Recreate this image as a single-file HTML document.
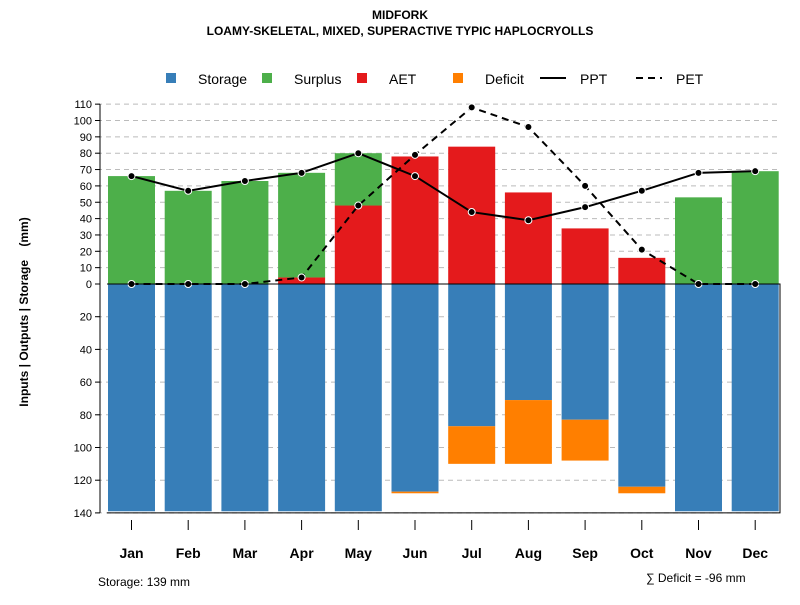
<!DOCTYPE html>
<html><head><meta charset="utf-8"><style>body{margin:0;background:#fff}svg{font-family:"Liberation Sans",sans-serif}</style></head>
<body>
<svg id="c" width="800" height="600" xmlns="http://www.w3.org/2000/svg">
<text x="400" y="19" text-anchor="middle" font-size="12" font-weight="bold">MIDFORK</text>
<text x="400" y="35" text-anchor="middle" font-size="12" font-weight="bold">LOAMY-SKELETAL, MIXED, SUPERACTIVE TYPIC HAPLOCRYOLLS</text>
<g id="grid"></g><g id="bars"></g><g id="lines"></g><g id="axes"></g>
<g font-size="14">
<rect x="166" y="73" width="10" height="10" fill="#377eb8"/><text x="198" y="84">Storage</text>
<rect x="262" y="73" width="10" height="10" fill="#4daf4a"/><text x="294" y="84">Surplus</text>
<rect x="357" y="73" width="10" height="10" fill="#e41a1c"/><text x="389" y="84">AET</text>
<rect x="453" y="73" width="10" height="10" fill="#ff7f00"/><text x="485" y="84">Deficit</text>
<line x1="540" y1="78" x2="566" y2="78" stroke="#000" stroke-width="2"/><text x="580" y="84">PPT</text>
<line x1="636" y1="78" x2="662" y2="78" stroke="#000" stroke-width="2" stroke-dasharray="7,5"/><text x="676" y="84">PET</text>
</g>
<text x="28" y="312" transform="rotate(-90 28 312)" text-anchor="middle" font-size="12" font-weight="bold">Inputs | Outputs | Storage&#160;&#160;&#160;&#160;(mm)</text>
<text x="98" y="586" font-size="12">Storage: 139 mm</text>
<text x="646" y="582" font-size="12">∑ Deficit = -96 mm</text>
</svg>
<script>
const months=["Jan","Feb","Mar","Apr","May","Jun","Jul","Aug","Sep","Oct","Nov","Dec"];
const aet=[0,0,0,4,48,78,84,56,34,16,0,0];
const surplus=[66,57,63,64,32,0,0,0,0,0,53,69];
const storage=[139,139,139,139,139,127,87,71,83,124,139,139];
const deficit=[0,0,0,0,0,1,23,39,25,4,0,0];
const ppt=[66,57,63,68,80,66,44,39,47,57,68,69];
const pet=[0,0,0,4,48,79,108,96,60,21,0,0];
const upTicks=[0,10,20,30,40,50,60,70,80,90,100,110];
const downTicks=[20,40,60,80,100,120,140];
const NS="http://www.w3.org/2000/svg";
const y0=284,k=1.635;
const y=v=>y0-v*k;
const x=i=>131.5+i*56.7;
const bw=47;
function mk(p,t,a){const e=document.createElementNS(NS,t);for(const q in a)e.setAttribute(q,a[q]);document.getElementById(p).appendChild(e);return e;}
upTicks.forEach(v=>{if(v>0){const g=mk('grid','line',{x1:97,x2:780,y1:y(v),y2:y(v),stroke:'#bbb','stroke-dasharray':'5,4'});

}
const t=mk('axes','line',{x1:95,x2:100,y1:y(v),y2:y(v),stroke:'#000'});


const l=mk('axes','text',{x:92,y:y(v)+4,'text-anchor':'end','font-size':11});l.textContent=v;

});
downTicks.forEach(v=>{const g=mk('grid','line',{x1:97,x2:780,y1:y(-v),y2:y(-v),stroke:'#bbb','stroke-dasharray':'5,4'});


const t=mk('axes','line',{x1:95,x2:100,y1:y(-v),y2:y(-v),stroke:'#000'});


const l=mk('axes','text',{x:92,y:y(-v)+4,'text-anchor':'end','font-size':11});l.textContent=v;

});
const ax=mk('axes','line',{x1:100,x2:100,y1:y(110),y2:y(-140),stroke:'#000'});


function bar(i,a,b,c,n){if(b<=a)return;const r=mk('bars','rect',{x:x(i)-bw/2,y:y(b),width:bw,height:(b-a)*k,fill:c});

}
months.forEach((m,i)=>{
bar(i,0,aet[i],'#e41a1c','aet');
bar(i,aet[i],aet[i]+surplus[i],'#4daf4a','surplus');
bar(i,-storage[i],0,'#377eb8','storage');
bar(i,-storage[i]-deficit[i],-storage[i],'#ff7f00','deficit');
const t=mk('axes','line',{x1:x(i),x2:x(i),y1:520,y2:530,stroke:'#000'});


const l=mk('axes','text',{x:x(i),y:558,'text-anchor':'middle','font-size':14,'font-weight':'bold'});l.textContent=m;

});
const fr=mk('axes','path',{d:`M107 ${y0} H780 V${y(-140)} H107`,fill:'none',stroke:'#000'});


[[ppt,'ppt',null],[pet,'pet','7,5']].forEach(([d,n,da])=>{
const p=mk('lines','polyline',{points:d.map((v,i)=>x(i)+','+y(v)).join(' '),fill:'none',stroke:'#000','stroke-width':2});
if(da)p.setAttribute('stroke-dasharray',da);


d.forEach((v,i)=>{const c=mk('lines','circle',{cx:x(i),cy:y(v),r:3.5,fill:'#000',stroke:'#fff','stroke-width':1});

});});
</script>
</body></html>
